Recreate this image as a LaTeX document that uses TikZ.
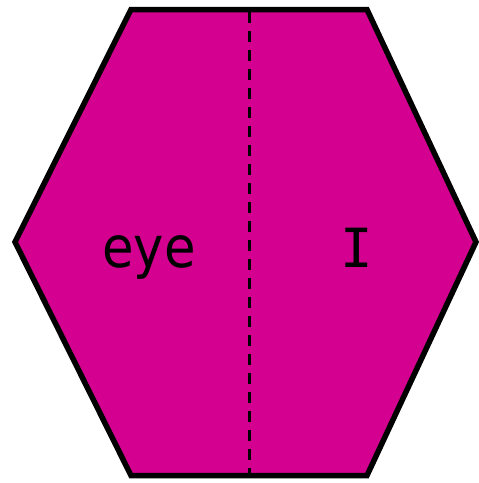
\documentclass[tikz,border=0pt]{standalone}
\usepackage{fontspec}
\newfontfamily\labelfont{DejaVu Sans Condensed}
\newfontfamily\serifIfont{DejaVu Sans Mono}
\tikzset{
  hexface/.style={draw=black, line width=5.5pt, line join=miter, fill=hexpink},
  split/.style={draw=black, line width=3pt, dash pattern=on 11pt off 8pt},
  word/.style={font=\labelfont\fontsize{57}{60}\selectfont, anchor=base, inner sep=0pt},
}
\definecolor{hexpink}{HTML}{D4008F}

\begin{document}
\begin{tikzpicture}[x=1pt, y=-1pt]
  \useasboundingbox (0,0) rectangle (479,483);

  % Hexagon corners
  \coordinate (tl) at (131,9.5);
  \coordinate (tr) at (367,9.5);
  \coordinate (rr) at (476,242);
  \coordinate (br) at (367,475.5);
  \coordinate (bl) at (131,475.5);
  \coordinate (ll) at (15,242);
  \draw[hexface] (tl) -- (tr) -- (rr) -- (br) -- (bl) -- (ll) -- cycle;

  % Fold line
  \coordinate (top) at (249,12);
  \coordinate (bot) at (249,473);
  \draw[split] (top) -- (bot);

  % Labels
  \node[word] (eye) at (149,267) {eye};
  \node[word, font=\serifIfont\fontsize{54}{60}\selectfont] (i) at (357,267) {I};
\end{tikzpicture}
\end{document}
